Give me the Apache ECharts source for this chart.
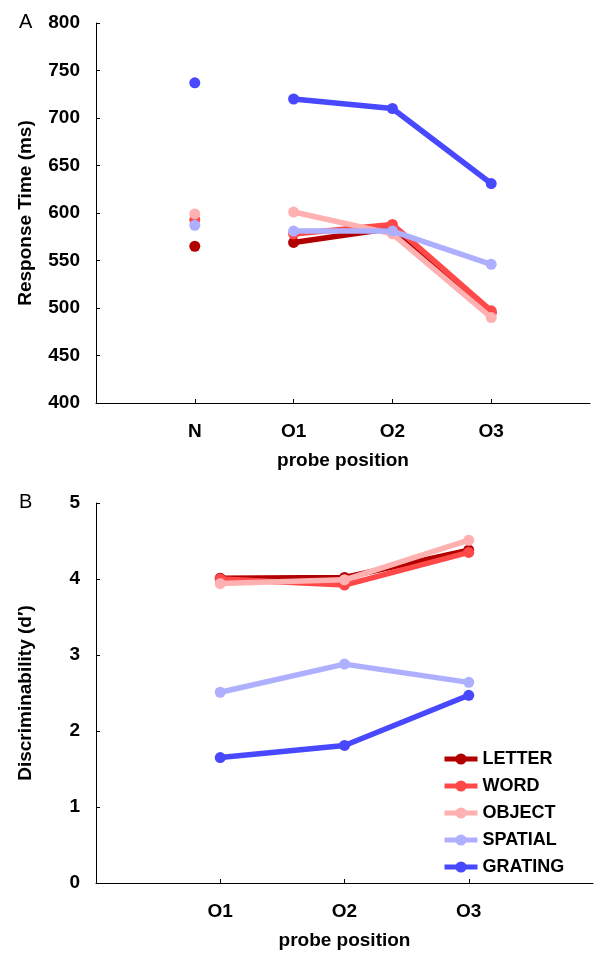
<!DOCTYPE html>
<html>
<head>
<meta charset="utf-8">
<script src="https://cdn.jsdelivr.net/npm/echarts@6/dist/echarts.min.js"></script>
<style>html,body{margin:0;padding:0;background:#fff}#c{width:600px;height:956px}</style>
</head>
<body>
<div id="c"></div>
<script>
// ---- data ----
var catsA = ['N', 'O1', 'O2', 'O3'];
var catsB = ['O1', 'O2', 'O3'];
var seriesNames = ['LETTER', 'WORD', 'OBJECT', 'SPATIAL', 'GRATING'];
var rtLetter  = [565, 569, 584, 495];
var rtWord    = [593, 578, 588, 497];
var rtObject  = [599, 601, 578, 490];
var rtSpatial = [587, 581, 581, 546];
var rtGrating = [737, 720, 710, 631];
var dLetter  = [4.01, 4.02, 4.38];
var dWord    = [4.00, 3.92, 4.35];
var dObject  = [3.94, 3.99, 4.51];
var dSpatial = [2.51, 2.88, 2.64];
var dGrating = [1.65, 1.81, 2.47];
var yTicksA = [400, 450, 500, 550, 600, 650, 700, 750, 800];
var yTicksB = [0, 1, 2, 3, 4, 5];

var colors = ['#B20000', '#FF4848', '#FFB0B0', '#AFAFFF', '#4848FF'];
var rtAll = [rtLetter, rtWord, rtObject, rtSpatial, rtGrating];
var dAll = [dLetter, dWord, dObject, dSpatial, dGrating];

var FONT = '"Liberation Sans", Arial, Helvetica, sans-serif';
var chart = echarts.init(document.getElementById('c'), null, {renderer: 'canvas'});

function xAxisOf(cats, gi) {
  var vals = cats.map(function (c, i) { return i + 1; });
  return {
    type: 'value', gridIndex: gi, min: 0, max: cats.length + 1, interval: 1,
    splitLine: {show: false},
    axisLine: {lineStyle: {color: '#000', width: 1}},
    axisTick: {show: true, inside: true, length: 4, customValues: vals, lineStyle: {color: '#000'}},
    axisLabel: {
      customValues: vals, margin: 19, color: '#000', fontSize: 19, fontWeight: 'bold', fontFamily: FONT,
      formatter: function (v) { return cats[v - 1] || ''; }
    },
    name: 'probe position', nameLocation: 'middle', nameGap: 48,
    nameTextStyle: {color: '#000', fontSize: 19, fontWeight: 'bold', fontFamily: FONT}
  };
}
function yAxisOf(ticks, gi, name) {
  return {
    type: 'value', gridIndex: gi, min: ticks[0], max: ticks[ticks.length - 1], interval: ticks[1] - ticks[0],
    splitLine: {show: false},
    axisLine: {show: true, lineStyle: {color: '#000', width: 1}},
    axisTick: {show: true, inside: true, length: 4, lineStyle: {color: '#000'}},
    axisLabel: {margin: 16, color: '#000', fontSize: 19, fontWeight: 'bold', fontFamily: FONT},
    name: name, nameLocation: 'middle', nameGap: 61, nameRotate: 90,
    nameTextStyle: {color: '#000', fontSize: 19, fontWeight: 'bold', fontFamily: FONT}
  };
}

var series = [];
// Panel A: lines O1..O3 and standalone N points
seriesNames.forEach(function (n, k) {
  var vals = rtAll[k];
  series.push({
    name: n + ' A', type: 'line', xAxisIndex: 0, yAxisIndex: 0,
    data: catsA.slice(1).map(function (c, i) { return [i + 2, vals[i + 1]]; }),
    symbol: 'circle', symbolSize: 11, showSymbol: true,
    lineStyle: {color: colors[k], width: 5.5}, itemStyle: {color: colors[k], opacity: 1},
    emphasis: {disabled: true}, z: 2 + k
  });
  series.push({
    name: n + ' N', type: 'scatter', xAxisIndex: 0, yAxisIndex: 0,
    data: [[1, vals[0]]], symbol: 'circle', symbolSize: 11,
    itemStyle: {color: colors[k], opacity: 1}, emphasis: {disabled: true}, z: 2 + k
  });
});
// Panel B
seriesNames.forEach(function (n, k) {
  var vals = dAll[k];
  series.push({
    name: n, type: 'line', xAxisIndex: 1, yAxisIndex: 1,
    data: catsB.map(function (c, i) { return [i + 1, vals[i]]; }),
    symbol: 'circle', symbolSize: 11, showSymbol: true,
    lineStyle: {color: colors[k], width: 5.5}, itemStyle: {color: colors[k], opacity: 1},
    emphasis: {disabled: true}, z: 2 + k
  });
});

chart.setOption({
  animation: false,
  backgroundColor: '#fff',
  textStyle: {fontFamily: FONT},
  title: [
    {text: 'A', left: 19, top: 12, padding: 0, textStyle: {fontSize: 20, fontWeight: 'normal', color: '#000', fontFamily: FONT}},
    {text: 'B', left: 19, top: 492, padding: 0, textStyle: {fontSize: 20, fontWeight: 'normal', color: '#000', fontFamily: FONT}}
  ],
  grid: [
    {left: 96, top: 23, width: 494, height: 380},
    {left: 96, top: 503, width: 497, height: 380}
  ],
  xAxis: [xAxisOf(catsA, 0), xAxisOf(catsB, 1)],
  yAxis: [yAxisOf(yTicksA, 0, 'Response Time (ms)'), yAxisOf(yTicksB, 1, 'Discriminability (d\u2032)')],
  legend: {
    data: seriesNames, orient: 'vertical', left: 442, top: 750,
    itemWidth: 33, itemHeight: 14, itemGap: 9, padding: 0,
    selectedMode: false,
    lineStyle: {width: 5},
    textStyle: {color: '#000', fontSize: 18, fontWeight: 'bold', fontFamily: FONT}
  },
  series: series
});
</script>
</body>
</html>
